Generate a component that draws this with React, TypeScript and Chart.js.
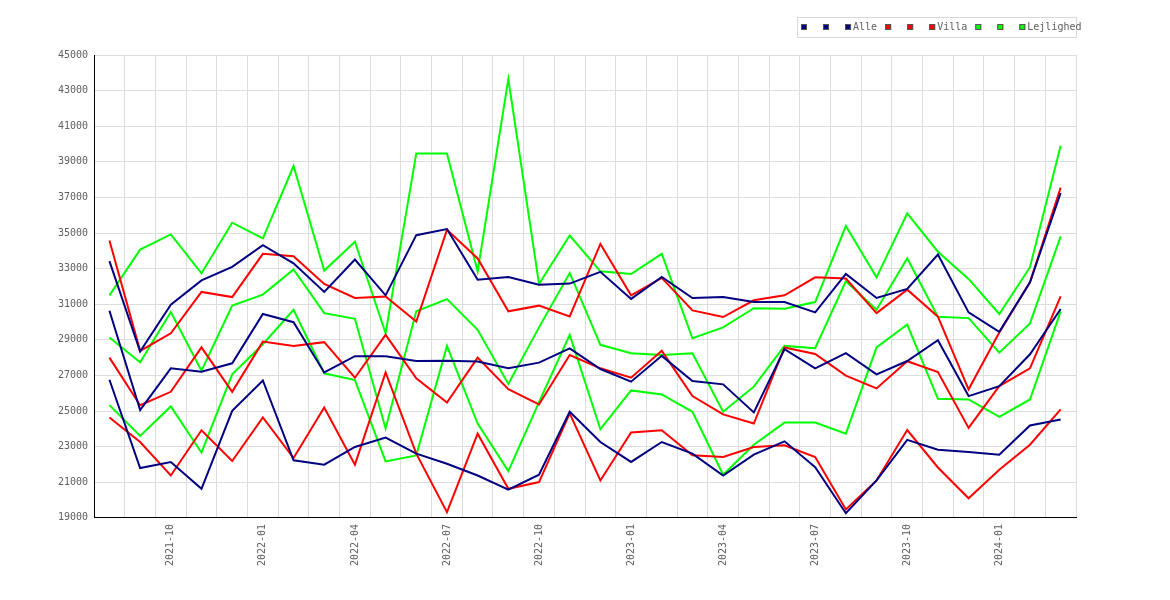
import React, { useEffect, useRef } from "react";
import Chart from "chart.js/auto";

// monthly labels, 2021-08 .. 2024-03
const months = [
    "2021-08", "2021-09", "2021-10", "2021-11", "2021-12",
    "2022-01", "2022-02", "2022-03", "2022-04", "2022-05", "2022-06",
    "2022-07", "2022-08", "2022-09", "2022-10", "2022-11", "2022-12",
    "2023-01", "2023-02", "2023-03", "2023-04", "2023-05", "2023-06",
    "2023-07", "2023-08", "2023-09", "2023-10", "2023-11", "2023-12",
    "2024-01", "2024-02", "2024-03",
];

const alleHigh = [33420, 28340, 30970, 32340, 33100, 34320, 33300, 31690, 33510, 31500, 34880, 35220, 32380, 32530, 32100, 32160, 32820, 31300, 32530, 31350, 31410, 31120, 31120, 30540, 32700, 31350, 31860, 33790, 30540, 29450, 32230, 37250];
const alleMid = [30630, 25050, 27400, 27210, 27680, 30450, 29990, 27170, 28080, 28080, 27810, 27830, 27780, 27400, 27720, 28520, 27360, 26650, 28100, 26690, 26500, 24920, 28470, 27400, 28250, 27060, 27810, 28980, 25840, 26400, 28190, 30730];
const alleLow = [26760, 21800, 22140, 20630, 25010, 26720, 22230, 21990, 22980, 23510, 22610, 22040, 21380, 20590, 21420, 24960, 23260, 22140, 23260, 22610, 21380, 22550, 23300, 21850, 19260, 21100, 23380, 22830, 22700, 22550, 24190, 24520];

const villaHigh = [34580, 28380, 29370, 31690, 31400, 33830, 33700, 32140, 31350, 31440, 30030, 35180, 33570, 30600, 30920, 30310, 34390, 31500, 32480, 30650, 30280, 31220, 31500, 32510, 32440, 30500, 31820, 30300, 26220, 29410, 32230, 37550];
const villaMid = [28000, 25330, 26080, 28580, 26080, 28900, 28660, 28870, 26870, 29280, 26840, 25480, 28000, 26230, 25370, 28150, 27400, 26870, 28380, 25840, 24810, 24300, 28570, 28210, 26990, 26270, 27800, 27190, 24050, 26400, 27400, 31440];
const villaLow = [24640, 23260, 21380, 23920, 22190, 24640, 22360, 25200, 21990, 27170, 22610, 19320, 23730, 20630, 21010, 24870, 21100, 23790, 23920, 22510, 22420, 22980, 23080, 22420, 19470, 21100, 23930, 21830, 20100, 21700, 23110, 25090];

const lejHigh = [31500, 34070, 34920, 32740, 35580, 34700, 38760, 32890, 34510, 29370, 39470, 39470, 32850, 43650, 32140, 34860, 32850, 32700, 33830, 29090, 29700, 30780, 30750, 31120, 35390, 32510, 36100, 33950, 32420, 30450, 33080, 39900];
const lejMid = [29130, 27740, 30560, 27270, 30930, 31540, 32950, 30500, 30180, 24020, 30600, 31290, 29560, 26520, 29700, 32760, 28720, 28250, 28150, 28250, 24960, 26370, 28660, 28530, 32290, 30690, 33580, 30300, 30220, 28280, 29920, 34810];
const lejLow = [25330, 23600, 25260, 22660, 27060, 28750, 30690, 27120, 26740, 22170, 22510, 28660, 24300, 21630, 25500, 29280, 23980, 26160, 25930, 24960, 21420, 23110, 24350, 24350, 23730, 28570, 29860, 25690, 25650, 24670, 25650, 30600];

const quarterMonths = ["01", "04", "07", "10"];

const textColor = "#606060";
const monoFont = "'DejaVu Sans Mono', monospace";

const line = (label: string, data: number[], color: string) => ({
    label,
    data,
    borderColor: color,
    backgroundColor: color,
    borderWidth: 2,
    pointRadius: 0,
    tension: 0,
    fill: false,
});

// legend in a thin box, drawn on the canvas
const boxLegend = {
    id: "boxLegend",
    afterDraw(chart: Chart) {
        const ctx = chart.ctx;
        const y = 27;
        let x = 801;
        ctx.save();
        ctx.font = "10px " + monoFont;
        ctx.textBaseline = "middle";
        ctx.lineWidth = 1;
        ctx.strokeStyle = "#d8d8d8";
        ctx.strokeRect(797.5, 17.5, 279, 20);
        chart.data.datasets.forEach((ds: any) => {
            ctx.fillStyle = ds.borderColor;
            ctx.fillRect(x, y - 3, 6, 6);
            ctx.strokeStyle = "#555";
            ctx.strokeRect(x + 0.5, y - 2.5, 5, 5);
            const text = ds.label || " ";
            ctx.fillStyle = textColor;
            ctx.fillText(text, x + 8, y + 0.5);
            x += 8 + ctx.measureText(text).width + 8;
        });
        ctx.restore();
    },
};

const App = () => {
    const canvasRef = useRef<HTMLCanvasElement | null>(null);
    const chartRef = useRef<Chart | null>(null);

    useEffect(() => {
        document.body.style.margin = "0";
        if (chartRef.current) {
            chartRef.current.destroy();
        }
        const ctx = canvasRef.current?.getContext("2d");
        if (!ctx) return;

        const tickFont = { family: monoFont, size: 10 };

        chartRef.current = new Chart(ctx, {
            type: "line",
            data: {
                labels: months,
                datasets: [
                    line("", alleHigh, "#000080"),
                    line("", alleMid, "#000080"),
                    line("Alle", alleLow, "#000080"),
                    line("", villaHigh, "#ff0000"),
                    line("", villaMid, "#ff0000"),
                    line("Villa", villaLow, "#ff0000"),
                    line("", lejHigh, "#00ff00"),
                    line("", lejMid, "#00ff00"),
                    line("Lejlighed", lejLow, "#00ff00"),
                ],
            },
            options: {
                animation: false,
                responsive: false,
                layout: { padding: { left: 52, right: 94, top: 55, bottom: 28 } },
                plugins: {
                    legend: { display: false },
                    tooltip: { enabled: false },
                },
                scales: {
                    x: {
                        offset: true,
                        grid: { offset: true, color: "#dddddd", drawTicks: false },
                        border: { color: "#000000", width: 1 },
                        ticks: {
                            autoSkip: false,
                            minRotation: 90,
                            maxRotation: 90,
                            padding: 6,
                            color: textColor,
                            font: tickFont,
                            callback: (_v: any, i: number) => {
                                const m = months[i];
                                return quarterMonths.includes(m.slice(5)) ? m : "";
                            },
                        },
                    },
                    y: {
                        min: 19000,
                        max: 45000,
                        grid: { color: "#dddddd", drawTicks: false },
                        border: { color: "#000000", width: 1 },
                        ticks: {
                            stepSize: 2000,
                            padding: 6,
                            color: textColor,
                            font: tickFont,
                            callback: (v: any) => String(v),
                        },
                    },
                },
            },
            plugins: [boxLegend],
        });

        return () => {
            if (chartRef.current) {
                chartRef.current.destroy();
                chartRef.current = null;
            }
        };
    }, []);

    return (
        <div style={{ width: 1170, height: 600 }}>
            <canvas ref={canvasRef} width={1170} height={600} />
        </div>
    );
};

export default App;
